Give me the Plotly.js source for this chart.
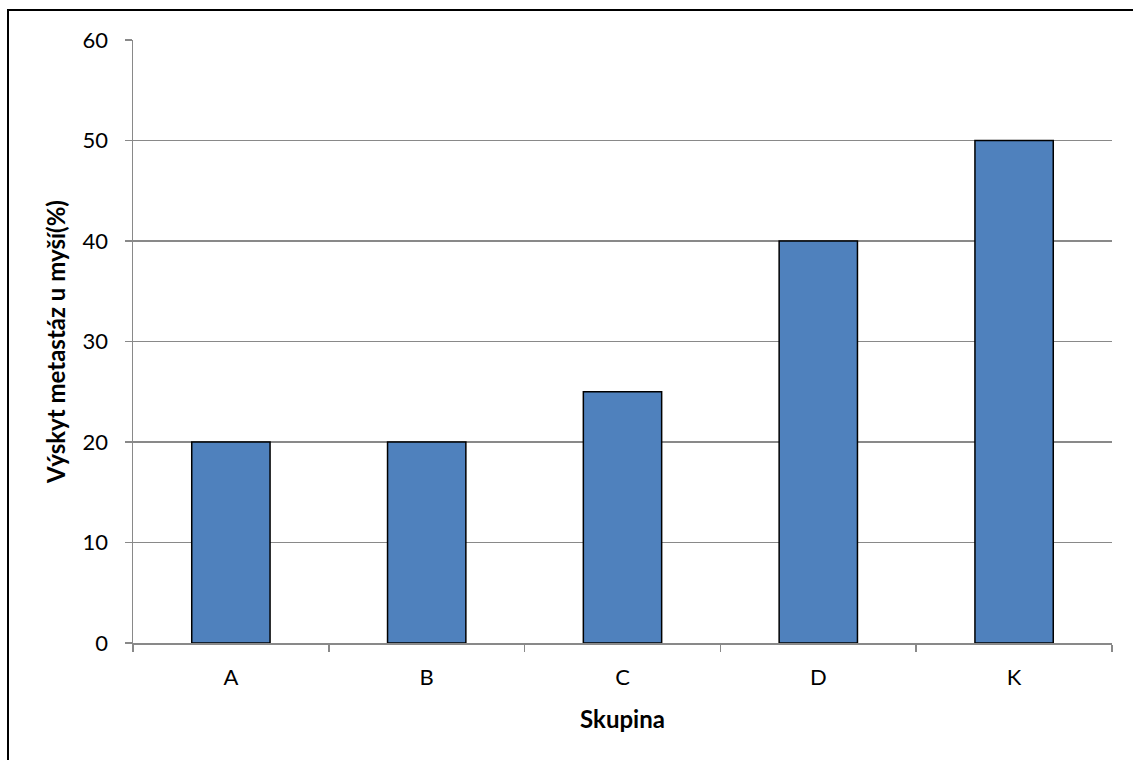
<!DOCTYPE html>
<html>
<head>
<meta charset="utf-8">
<script src="https://cdn.plot.ly/plotly-3.0.1.min.js"></script>
<style>
html, body { margin: 0; padding: 0; background: #fff; }
#frame { position: absolute; left: 7px; top: 9px; width: 1140px; height: 770px; border-left: 2px solid #000; border-top: 2px solid #000; }
#chart { position: absolute; left: 0; top: 0; width: 1133px; height: 760px; }
</style>
</head>
<body>
<div id="frame"></div>
<div id="chart"></div>
<script>
var categories = ["A", "B", "C", "D", "K"];
var values = [20, 20, 25, 40, 50];
var yTicks = [0, 10, 20, 30, 40, 50, 60];

var fontFam = "Lato, 'Open Sans', 'Liberation Sans', sans-serif";

var trace = {
  type: "bar",
  x: categories,
  y: values,
  marker: { color: "#4F81BD", line: { color: "#000000", width: 1.5 } },
  hoverinfo: "none"
};

var layout = {
  width: 1133,
  height: 760,
  margin: { l: 133, r: 21, t: 40, b: 117 },
  paper_bgcolor: "rgba(0,0,0,0)",
  plot_bgcolor: "rgba(0,0,0,0)",
  bargap: 0.6,
  showlegend: false,
  font: { family: fontFam, size: 22, color: "#000" },
  xaxis: {
    type: "category",
    tickson: "boundaries",
    ticks: "outside",
    ticklen: 7,
    tickwidth: 1.5,
    tickcolor: "#898989",
    showline: true,
    linecolor: "#898989",
    linewidth: 1.5,
    showgrid: false,
    zeroline: false,
    ticklabelstandoff: 14,
    tickfont: { family: fontFam, size: 22, color: "#000" },
    title: { text: "<b>Skupina</b>", font: { family: fontFam, size: 24, color: "#000" }, standoff: 22 }
  },
  yaxis: {
    range: [0, 60],
    tickvals: yTicks,
    ticktext: yTicks.map(String),
    ticks: "outside",
    ticklen: 7,
    tickwidth: 1.5,
    tickcolor: "#898989",
    showline: true,
    linecolor: "#898989",
    linewidth: 1.5,
    showgrid: true,
    gridcolor: "#898989",
    gridwidth: 1.3,
    zeroline: false,
    ticklabelstandoff: 12,
    tickfont: { family: fontFam, size: 22, color: "#000" },
    title: { text: "<b>Výskyt metastáz u myší(%)</b>", font: { family: fontFam, size: 24, color: "#000" }, standoff: 10 }
  }
};

Plotly.newPlot("chart", [trace], layout, { displayModeBar: false, staticPlot: true });
</script>
</body>
</html>
